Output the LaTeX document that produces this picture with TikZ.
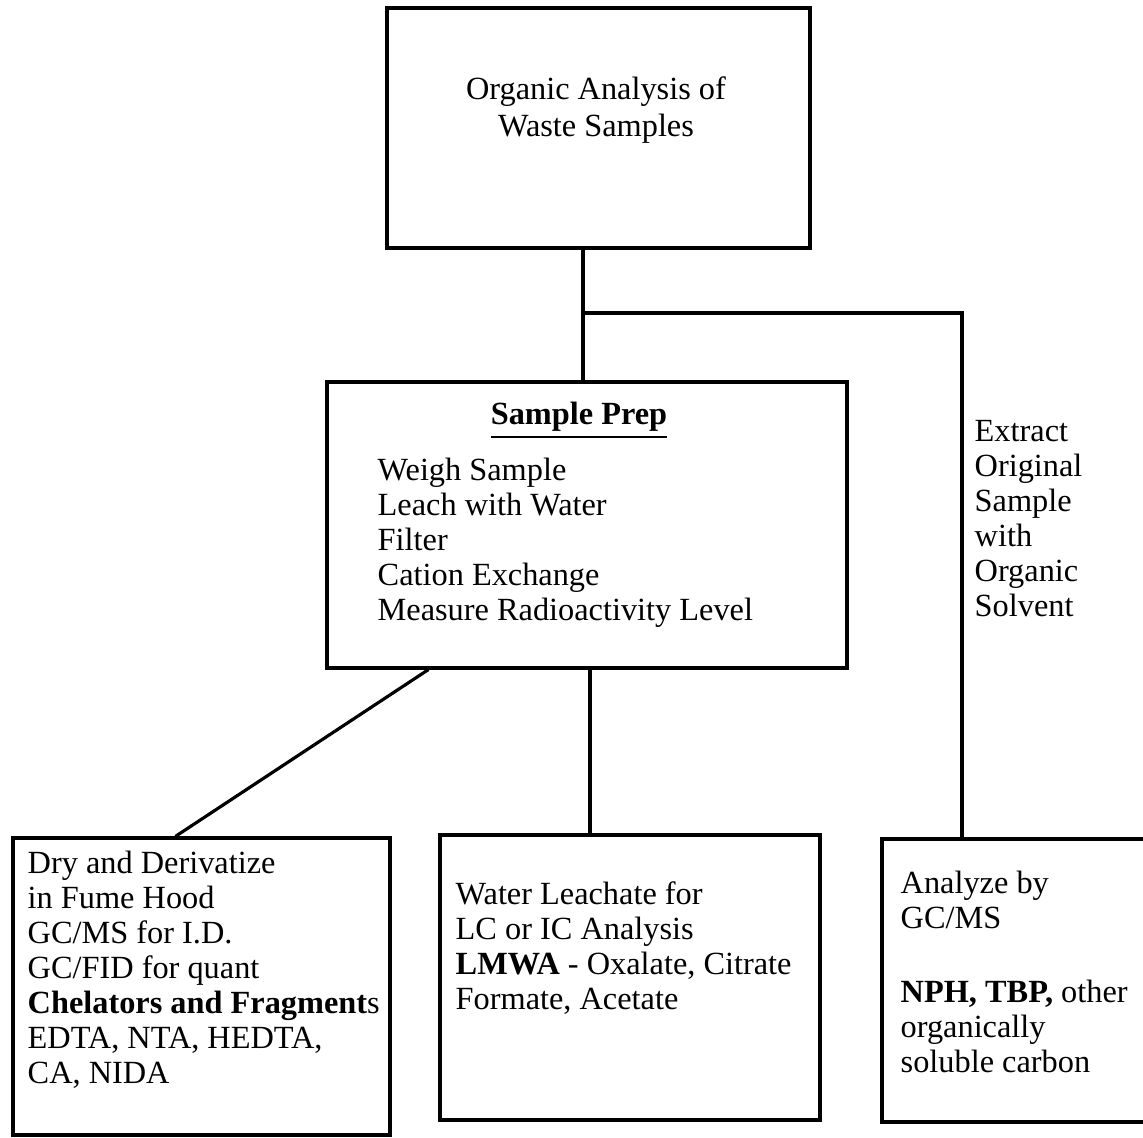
\documentclass[tikz,border=0pt]{standalone}
\usepackage{fontspec}
\setmainfont{Liberation Serif}
\usepackage{tikz}

\begin{document}
\begin{tikzpicture}[box/.style={draw, line width=0.9pt, inner sep=0pt}, link/.style={line width=0.9pt}, txt/.style={inner sep=0pt, align=left, font=\fontsize{9.2}{9.96}\selectfont}]
		\useasboundingbox (0,0) rectangle (11.43,11.37);
		% boxes
		\node[box, minimum width=4.23cm, minimum height=2.40cm] (waste) at (5.985,10.09) {};
		\node[box, minimum width=5.20cm, minimum height=2.86cm] (prep) at (5.87,6.12) {};
		\node[box, minimum width=3.77cm, minimum height=2.97cm] (chel) at (2.015,1.505) {};
		\node[box, minimum width=3.80cm, minimum height=2.85cm] (leach) at (6.30,1.595) {};
		\node[box, minimum width=2.68cm, minimum height=2.83cm] (solv) at (10.16,1.565) {};
		% texts
		\node[txt, anchor=north, align=center, font=\fontsize{9.2}{10.53}\selectfont] (wastetxt) at (5.96,10.61) {Organic Analysis of\\Waste Samples};
		\node[txt, anchor=base] (preptitle) at (5.79,7.12) {\underline{\textbf{Sample Prep}}};
		\node[txt, anchor=north west] (steps) at (3.77,6.794) {Weigh Sample\\Leach with Water\\Filter\\Cation Exchange\\Measure Radioactivity Level};
		\node[txt, anchor=north west] (extract) at (9.74,7.174) {Extract\\Original\\Sample\\with\\Organic\\Solvent};
		\node[txt, anchor=north west] (cheltxt) at (0.27,2.864) {Dry and Derivatize\\in Fume Hood\\GC/MS for I.D.\\GC/FID for quant\\\textbf{Chelators and Fragment}s\\EDTA, NTA, HEDTA,\\CA, NIDA};
		\node[txt, anchor=north west] (leachtxt) at (4.55,2.564) {Water Leachate for\\LC or IC Analysis\\\textbf{LMWA} - Oxalate, Citrate\\Formate, Acetate};
		\node[txt, anchor=north west] (solvtxt) at (9.00,2.664) {Analyze by\\GC/MS\\[0.39cm]\textbf{NPH, TBP,} other\\organically\\soluble carbon};
		% connectors
		\coordinate (split) at (5.83,8.24);
		\coordinate (turn) at (9.62,8.24);
		\draw[link] (waste.south -| split) -- (split) -- (prep.north -| split);
		\draw[link] (split) -- (turn) -- (solv.north -| turn);
		\draw[link] ([xshift=1.03cm]prep.south west) -- ([xshift=1.64cm]chel.north west);
		\draw[link] ([xshift=0.03cm]prep.south) -- ([xshift=0.03cm]prep.south |- leach.north);
		\end{tikzpicture}
\end{document}
